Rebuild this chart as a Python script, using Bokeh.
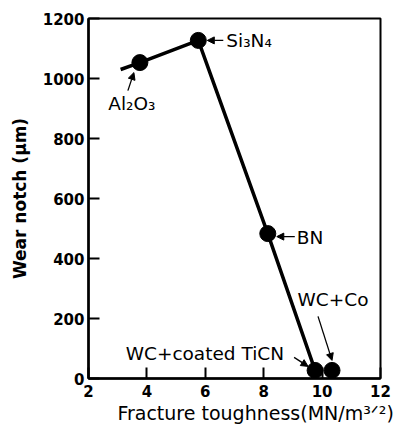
from bokeh.plotting import figure
from bokeh.models import Label, Arrow, NormalHead, Range1d, FixedTicker, ColumnDataSource
from bokeh.embed import file_html
from bokeh.resources import INLINE

# Data
materials = ["Al₂O₃", "Si₃N₄", "BN", "WC+coated TiCN", "WC+Co"]
toughness = [3.76, 5.76, 8.14, 9.76, 10.34]
wear = [1053, 1127, 483, 27, 27]
# connected trend line (starts with a short stub left of Al2O3)
line_x = [3.1, 3.76, 5.76, 8.14, 9.76]
line_y = [1030, 1053, 1127, 483, 27]
x_ticks = [2, 4, 6, 8, 10, 12]
y_ticks = [0, 200, 400, 600, 800, 1000, 1200]

X0, X1, Y0, Y1 = 2, 12, 0, 1200
W, H = 398, 431
ML, MR, MT, MB = 88, 18, 18, 53
FW, FH = W - ML - MR, H - MT - MB

p = figure(width=W, height=H, output_backend="svg", toolbar_location=None,
           x_range=Range1d(X0, X1), y_range=Range1d(Y0, Y1),
           min_border_left=ML, min_border_right=MR, min_border_top=MT, min_border_bottom=MB)
p.background_fill_color = "white"
p.border_fill_color = "white"
p.outline_line_color = "black"
p.outline_line_width = 2
p.xgrid.visible = False
p.ygrid.visible = False

FONT = "DejaVu Sans"
for ax in (p.xaxis[0], p.yaxis[0]):
    ax.axis_line_width = 2.5
    ax.axis_line_color = "black"
    ax.major_tick_in = 11
    ax.major_tick_out = 0
    ax.major_tick_line_width = 2
    ax.major_tick_line_color = "black"
    ax.minor_tick_line_color = None
    ax.major_label_text_font = FONT
    ax.major_label_text_font_style = "bold"
    ax.major_label_text_font_size = "15px"
    ax.major_label_text_color = "black"

p.xaxis.ticker = FixedTicker(ticks=x_ticks)
p.yaxis.ticker = FixedTicker(ticks=y_ticks)
p.xaxis.major_label_standoff = 6
p.yaxis.major_label_standoff = 4

p.yaxis.axis_label = "Wear notch (μm)"
p.yaxis.axis_label_text_font = FONT
p.yaxis.axis_label_text_font_style = "bold"
p.yaxis.axis_label_text_font_size = "17px"
p.yaxis.axis_label_text_color = "black"
p.yaxis.axis_label_standoff = 10

NB = "\u00a0"
p.xaxis.axis_label = NB * 7 + "Fracture toughness(MN/m³ᐟ²)"
p.xaxis.axis_label_text_font = FONT
p.xaxis.axis_label_text_font_style = "normal"
p.xaxis.axis_label_text_font_size = "19px"
p.xaxis.axis_label_text_color = "black"
p.xaxis.axis_label_standoff = 2

# trend line and points
p.line(line_x, line_y, line_color="black", line_width=3.5)
src = ColumnDataSource(dict(x=toughness, y=wear, name=materials))
p.scatter("x", "y", source=src, size=16, fill_color="black", line_color="black")

# pixel -> data conversions
sx = (X1 - X0) / FW
sy = (Y1 - Y0) / FH

# label offsets (px): (x_offset, y_offset, align)
label_style = {
    "Al₂O₃": (-8, -41, "center"),
    "Si₃N₄": (28, 0, "left"),
    "BN": (29, -4, "left"),
    "WC+coated TiCN": (-31, 17, "right"),
    "WC+Co": (1, 71, "center"),
}
# arrow offsets (px, screen y up): start (dx, dy), end (dx, dy)
arrow_style = {
    "Al₂O₃": ((-12, -28), (-6, -10)),
    "Si₃N₄": ((25, 0), (9, 0)),
    "BN": ((27, -3), (9, -3)),
    "WC+coated TiCN": ((-21, 13), (-7, 4)),
    "WC+Co": ((-14, 54), (0, 10)),
}

for name, xv, yv in zip(materials, toughness, wear):
    dx, dy, al = label_style[name]
    p.add_layout(Label(x=xv, y=yv, x_offset=dx, y_offset=dy, text=name,
                       text_align=al, text_baseline="middle",
                       text_font=FONT, text_font_size="18.5px", text_color="black"))
    (s0, s1), (e0, e1) = arrow_style[name]
    p.add_layout(Arrow(x_start=xv + s0 * sx, y_start=yv + s1 * sy,
                       x_end=xv + e0 * sx, y_end=yv + e1 * sy,
                       line_width=1.3, line_color="black",
                       end=NormalHead(size=7, fill_color="black", line_color="black")))

open("out.html", "w").write(file_html(p, INLINE))
